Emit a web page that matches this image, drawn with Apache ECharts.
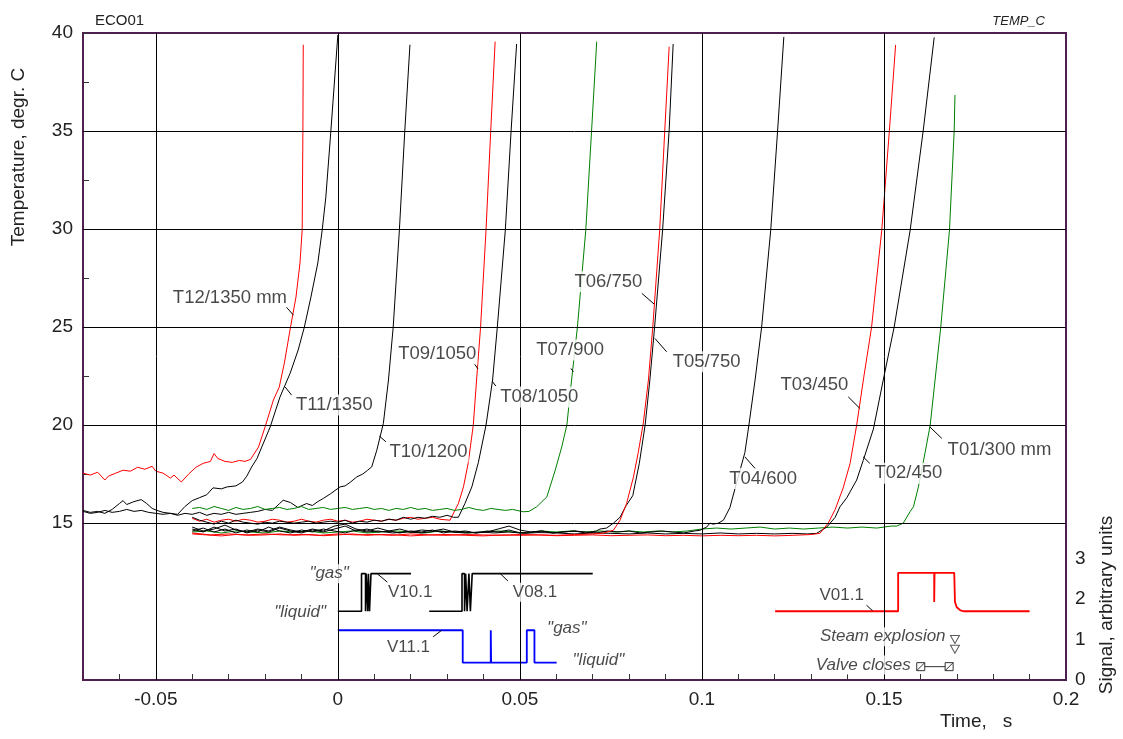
<!DOCTYPE html>
<html>
<head>
<meta charset="utf-8">
<title>ECO01 – TEMP_C</title>
<script src="https://cdn.jsdelivr.net/npm/echarts@6/dist/echarts.min.js"></script>
<style>
  html, body { margin: 0; padding: 0; background: #fff; }
  #chart { width: 1123px; height: 739px; }
</style>
</head>
<body>
<div id="chart"></div>
<script>
// ---- Thermocouple traces: [time s, temperature degC] ----
const T12 = [[-0.070,17.55],[-0.068,17.45],[-0.066,17.60],[-0.064,17.20],[-0.063,17.40],[-0.061,17.55],[-0.059,17.70],[-0.057,17.65],[-0.055,17.85],[-0.053,17.75],[-0.051,17.90],[-0.050,17.65],[-0.048,17.55],[-0.046,17.30],[-0.045,17.45],[-0.043,17.10],[-0.041,17.50],[-0.039,17.85],[-0.037,18.05],[-0.035,18.15],[-0.034,18.55],[-0.033,18.30],[-0.031,18.15],[-0.029,18.10],[-0.027,18.20],[-0.0255,18.15],[-0.024,18.25],[-0.0218,18.88],[-0.0200,19.90],[-0.0177,21.28],[-0.0161,21.94],[-0.0147,23.16],[-0.0130,25.00],[-0.0115,26.53],[-0.0104,28.27],[-0.0098,29.95],[-0.0096,35.05],[-0.0095,39.40]];

const T11 = [[-0.070,15.65],[-0.068,15.55],[-0.066,15.60],[-0.064,15.50],[-0.062,15.70],[-0.060,16.00],[-0.059,16.15],[-0.058,15.95],[-0.056,16.10],[-0.054,16.20],[-0.0525,16.00],[-0.051,15.75],[-0.0497,15.65],[-0.048,15.55],[-0.046,15.50],[-0.044,15.45],[-0.042,15.85],[-0.040,16.15],[-0.038,16.30],[-0.036,16.45],[-0.0343,16.80],[-0.032,16.75],[-0.0304,16.85],[-0.028,16.90],[-0.0262,17.10],[-0.025,17.40],[-0.0237,17.86],[-0.0222,18.30],[-0.0209,18.88],[-0.0186,19.90],[-0.0159,21.43],[-0.0131,22.65],[-0.0109,23.83],[-0.0092,25.00],[-0.0074,26.53],[-0.0055,28.27],[-0.0043,29.95],[-0.0033,31.63],[-0.0019,35.05],[0.0000,39.90]];

const T10 = [[-0.070,15.60],[-0.068,15.50],[-0.066,15.55],[-0.064,15.65],[-0.062,15.55],[-0.060,15.60],[-0.058,15.70],[-0.056,15.60],[-0.054,15.65],[-0.052,15.55],[-0.050,15.50],[-0.048,15.45],[-0.046,15.50],[-0.044,15.40],[-0.042,15.50],[-0.040,15.45],[-0.038,15.55],[-0.036,15.40],[-0.034,15.50],[-0.032,15.45],[-0.030,15.55],[-0.028,15.45],[-0.026,15.50],[-0.024,15.55],[-0.022,15.60],[-0.020,15.70],[-0.018,15.65],[-0.016,16.00],[-0.015,16.17],[-0.013,16.05],[-0.011,15.80],[-0.0086,16.00],[-0.007,15.90],[-0.0055,16.10],[-0.004,16.26],[-0.002,16.50],[0.0006,16.85],[0.002,16.90],[0.0035,17.10],[0.0052,17.36],[0.0068,17.50],[0.0082,17.70],[0.0093,17.87],[0.0107,18.72],[0.0116,19.40],[0.0125,20.09],[0.0139,22.30],[0.0152,25.00],[0.0169,29.95],[0.0184,35.05],[0.0198,39.40]];

const T09 = [[-0.040,15.25],[-0.038,15.10],[-0.036,15.20],[-0.034,15.05],[-0.032,15.15],[-0.030,15.20],[-0.028,15.10],[-0.026,15.20],[-0.024,15.15],[-0.022,15.05],[-0.020,15.10],[-0.018,15.20],[-0.016,15.15],[-0.014,15.05],[-0.012,15.10],[-0.010,15.20],[-0.008,15.10],[-0.006,15.05],[-0.004,15.15],[-0.002,15.20],[0.000,15.10],[0.002,15.15],[0.004,15.05],[0.006,15.10],[0.008,15.20],[0.010,15.15],[0.012,15.10],[0.014,15.20],[0.016,15.15],[0.018,15.25],[0.020,15.30],[0.022,15.20],[0.024,15.25],[0.026,15.30],[0.028,15.20],[0.0308,15.15],[0.0331,16.00],[0.0345,16.85],[0.0358,18.06],[0.0372,20.00],[0.0381,22.30],[0.0392,25.00],[0.0407,29.95],[0.0420,35.05],[0.0432,39.56]];

const T08 = [[-0.040,15.30],[-0.038,15.15],[-0.036,15.05],[-0.034,14.95],[-0.032,15.10],[-0.030,15.00],[-0.028,15.15],[-0.026,15.05],[-0.024,15.00],[-0.022,14.95],[-0.020,15.05],[-0.018,15.00],[-0.016,15.10],[-0.014,15.05],[-0.012,15.00],[-0.010,15.05],[-0.008,15.10],[-0.006,15.00],[-0.004,15.05],[-0.002,15.10],[0.000,15.05],[0.002,15.15],[0.004,15.00],[0.006,15.10],[0.008,15.05],[0.010,15.15],[0.012,15.10],[0.014,15.20],[0.016,15.15],[0.018,15.30],[0.020,15.20],[0.022,15.30],[0.024,15.25],[0.026,15.35],[0.028,15.30],[0.030,15.40],[0.0318,15.30],[0.0331,15.30],[0.0349,16.00],[0.0368,16.85],[0.0386,18.10],[0.0407,20.00],[0.0425,22.30],[0.0438,25.00],[0.0460,29.95],[0.0476,35.05],[0.0491,39.44]];

const T07 = [[-0.040,15.75],[-0.038,15.80],[-0.036,15.70],[-0.034,15.85],[-0.032,15.75],[-0.030,15.65],[-0.028,15.80],[-0.026,15.70],[-0.024,15.75],[-0.022,15.85],[-0.020,15.70],[-0.018,15.75],[-0.016,15.80],[-0.014,15.70],[-0.012,15.75],[-0.010,15.85],[-0.008,15.70],[-0.006,15.75],[-0.004,15.80],[-0.002,15.70],[0.000,15.75],[0.002,15.80],[0.004,15.70],[0.006,15.75],[0.008,15.80],[0.010,15.70],[0.012,15.75],[0.014,15.65],[0.016,15.75],[0.018,15.70],[0.020,15.80],[0.022,15.70],[0.024,15.75],[0.026,15.65],[0.028,15.70],[0.030,15.75],[0.032,15.65],[0.034,15.70],[0.036,15.80],[0.038,15.70],[0.040,15.65],[0.042,15.75],[0.044,15.70],[0.046,15.65],[0.048,15.70],[0.0509,15.58],[0.0525,15.60],[0.0546,15.83],[0.0574,16.34],[0.0597,17.70],[0.0615,18.89],[0.0629,20.00],[0.0642,22.30],[0.0658,25.00],[0.0681,29.95],[0.0697,35.05],[0.0711,39.56]];

const T06 = [[-0.040,14.50],[-0.035,14.40],[-0.030,14.45],[-0.025,14.40],[-0.020,14.45],[-0.015,14.40],[-0.010,14.42],[-0.005,14.38],[0.000,14.45],[0.005,14.40],[0.010,14.42],[0.015,14.38],[0.020,14.45],[0.025,14.40],[0.030,14.38],[0.035,14.42],[0.040,14.40],[0.045,14.38],[0.050,14.42],[0.055,14.40],[0.060,14.38],[0.065,14.42],[0.070,14.45],[0.073,14.50],[0.0757,14.64],[0.0775,15.15],[0.0793,16.00],[0.0812,17.36],[0.0825,18.60],[0.0839,20.10],[0.0853,22.30],[0.0865,25.00],[0.0884,29.95],[0.0898,35.05],[0.0910,39.30]];

const T05 = [[-0.040,14.80],[-0.037,14.60],[-0.034,14.70],[-0.031,14.90],[-0.028,14.65],[-0.025,14.55],[-0.022,14.70],[-0.019,14.60],[-0.016,14.80],[-0.013,14.65],[-0.010,14.55],[-0.007,14.70],[-0.004,14.60],[-0.001,14.85],[0.002,14.95],[0.005,14.70],[0.008,14.60],[0.011,14.75],[0.014,14.60],[0.017,14.70],[0.020,14.55],[0.023,14.65],[0.026,14.60],[0.029,14.70],[0.032,14.55],[0.035,14.60],[0.038,14.50],[0.041,14.55],[0.044,14.70],[0.047,14.85],[0.050,14.65],[0.053,14.55],[0.056,14.60],[0.059,14.50],[0.062,14.55],[0.065,14.60],[0.068,14.50],[0.071,14.60],[0.072,14.70],[0.0738,14.75],[0.0757,15.00],[0.0775,15.30],[0.0792,15.90],[0.0810,16.40],[0.0828,18.05],[0.0844,20.00],[0.0857,22.30],[0.0870,25.00],[0.0892,29.95],[0.0910,35.05],[0.0921,39.44]];

const T04 = [[-0.040,14.70],[-0.037,14.55],[-0.034,14.80],[-0.031,14.60],[-0.028,14.70],[-0.025,14.50],[-0.022,14.65],[-0.019,14.55],[-0.016,14.75],[-0.013,14.60],[-0.010,14.50],[-0.007,14.65],[-0.004,14.55],[-0.001,14.70],[0.002,14.85],[0.005,14.60],[0.008,14.70],[0.011,14.55],[0.014,14.60],[0.017,14.50],[0.020,14.60],[0.023,14.55],[0.026,14.65],[0.029,14.50],[0.032,14.60],[0.035,14.55],[0.038,14.50],[0.041,14.60],[0.044,14.55],[0.047,14.65],[0.050,14.50],[0.053,14.55],[0.056,14.60],[0.059,14.50],[0.062,14.55],[0.065,14.60],[0.068,14.55],[0.071,14.50],[0.074,14.60],[0.077,14.55],[0.080,14.60],[0.083,14.50],[0.086,14.55],[0.089,14.60],[0.092,14.55],[0.095,14.50],[0.098,14.60],[0.0995,14.64],[0.1013,14.80],[0.1022,15.00],[0.1031,14.95],[0.1045,15.00],[0.1059,15.15],[0.1077,15.80],[0.1086,16.43],[0.1118,18.60],[0.1129,20.00],[0.1146,22.30],[0.1164,25.00],[0.1189,29.95],[0.1208,35.05],[0.1225,39.80]];

const T03 = [[-0.040,14.45],[-0.036,14.40],[-0.032,14.35],[-0.028,14.42],[-0.024,14.38],[-0.020,14.40],[-0.016,14.45],[-0.012,14.38],[-0.008,14.42],[-0.004,14.36],[0.000,14.40],[0.004,14.45],[0.008,14.38],[0.012,14.42],[0.016,14.40],[0.020,14.35],[0.025,14.40],[0.030,14.42],[0.035,14.38],[0.040,14.35],[0.045,14.40],[0.050,14.38],[0.055,14.40],[0.060,14.36],[0.065,14.38],[0.070,14.40],[0.075,14.36],[0.080,14.38],[0.085,14.40],[0.090,14.36],[0.095,14.38],[0.100,14.35],[0.105,14.38],[0.110,14.36],[0.115,14.38],[0.120,14.35],[0.125,14.38],[0.130,14.42],[0.1324,14.48],[0.1347,15.00],[0.1366,15.70],[0.1388,16.80],[0.1407,18.05],[0.1425,20.00],[0.1445,22.50],[0.1466,25.00],[0.1494,29.95],[0.1515,35.05],[0.1532,39.39]];

const T02 = [[-0.040,14.60],[-0.037,14.75],[-0.034,14.55],[-0.031,14.70],[-0.028,14.50],[-0.025,14.65],[-0.022,14.55],[-0.019,14.80],[-0.016,14.60],[-0.013,14.50],[-0.010,14.65],[-0.007,14.55],[-0.004,14.70],[-0.001,14.60],[0.002,14.50],[0.005,14.65],[0.008,14.55],[0.011,14.60],[0.015,14.50],[0.019,14.55],[0.023,14.50],[0.027,14.60],[0.031,14.55],[0.035,14.50],[0.039,14.55],[0.043,14.50],[0.047,14.55],[0.051,14.48],[0.055,14.52],[0.060,14.50],[0.065,14.45],[0.070,14.50],[0.075,14.48],[0.080,14.45],[0.085,14.50],[0.090,14.45],[0.095,14.48],[0.100,14.45],[0.105,14.50],[0.110,14.45],[0.115,14.48],[0.120,14.45],[0.125,14.48],[0.129,14.45],[0.1315,14.48],[0.1343,14.80],[0.1366,15.30],[0.1379,15.83],[0.1398,16.30],[0.1425,17.20],[0.1443,18.20],[0.1471,19.80],[0.1498,22.30],[0.1528,25.00],[0.1572,29.95],[0.1608,35.05],[0.1638,39.78]];

const T01 = [[-0.040,14.55],[-0.036,14.60],[-0.032,14.50],[-0.028,14.60],[-0.024,14.55],[-0.020,14.50],[-0.016,14.60],[-0.012,14.55],[-0.008,14.60],[-0.004,14.50],[0.000,14.55],[0.004,14.60],[0.008,14.50],[0.012,14.55],[0.016,14.60],[0.020,14.55],[0.024,14.50],[0.028,14.60],[0.032,14.55],[0.036,14.50],[0.040,14.55],[0.044,14.60],[0.048,14.55],[0.052,14.50],[0.056,14.60],[0.060,14.55],[0.064,14.60],[0.068,14.55],[0.072,14.60],[0.076,14.55],[0.080,14.60],[0.084,14.55],[0.088,14.60],[0.092,14.55],[0.096,14.60],[0.100,14.70],[0.104,14.75],[0.108,14.70],[0.112,14.75],[0.116,14.80],[0.120,14.70],[0.124,14.75],[0.128,14.70],[0.132,14.75],[0.136,14.80],[0.140,14.75],[0.144,14.80],[0.148,14.75],[0.152,14.85],[0.1535,14.85],[0.1553,15.00],[0.1572,15.60],[0.1581,15.83],[0.1594,16.80],[0.1613,18.60],[0.1627,20.00],[0.1656,25.00],[0.1680,29.95],[0.1693,35.05],[0.1695,36.84]];

// ---- Valve / void signals: [time s, signal units] ----
const V10 = [[0.0000,1.70],[0.0065,1.70],[0.0065,2.63],[0.0076,2.63],[0.0076,1.70],[0.0078,1.70],[0.0078,2.63],[0.0082,2.63],[0.0082,1.70],[0.0084,1.70],[0.0084,2.63],[0.0087,2.63],[0.0087,1.70],[0.0091,1.70],[0.0091,2.63],[0.0201,2.63]];
const V08 = [[0.0251,1.70],[0.0341,1.70],[0.0341,2.63],[0.0348,2.63],[0.0348,1.70],[0.0351,1.70],[0.0351,2.63],[0.0355,2.63],[0.0355,1.70],[0.0360,1.70],[0.0360,2.63],[0.0364,2.63],[0.0364,1.70],[0.0369,1.70],[0.0369,2.63],[0.0700,2.63]];
const V11 = [[0.0000,1.23],[0.0343,1.23],[0.0343,0.43],[0.0420,0.43],[0.0420,1.23],[0.0421,1.23],[0.0421,0.43],[0.0519,0.43],[0.0519,1.23],[0.0540,1.23],[0.0540,0.43],[0.0601,0.43]];
const V01 = [[0.1201,1.70],[0.1539,1.70],[0.1539,2.65],[0.1638,2.65],[0.1638,1.93],[0.1639,2.65],[0.1693,2.65],[0.1695,1.93],[0.1700,1.80],[0.1710,1.72],[0.1720,1.70],[0.1900,1.70]];

// event markers
const steamExplosion = [[0.1695,1.00],[0.1695,0.76]];
const valveCloses = [[0.1601,0.33],[0.1679,0.33]];

// ---- Axis ticks and labels ----
const timeLabels = [-0.05, 0, 0.05, 0.1, 0.15, 0.2];
const timeTicks = [-0.06,-0.05,-0.04,-0.03,-0.02,-0.01,0,0.01,0.02,0.03,0.04,0.05,0.06,0.07,0.08,0.09,0.1,0.11,0.12,0.13,0.14,0.15,0.16,0.17,0.18,0.19];
const tempLabels = [15, 20, 25, 30, 35, 40];
const tempTicks = [15, 17.5, 20, 22.5, 25, 27.5, 30, 32.5, 35, 37.5, 40];
const signalLabels = [0, 1, 2, 3];
const timeGrid = [-0.05, 0, 0.05, 0.1, 0.15];
const tempGrid = [15, 20, 25, 30, 35];

// ---- Annotations: text, anchor time, anchor value ----
const tempNotes = [
  ['T12/1350 mm', -0.0456, 26.48],
  ['T11/1350', -0.0118, 21.02],
  ['T10/1200', 0.0139, 18.64],
  ['T09/1050', 0.0163, 23.62],
  ['T08/1050', 0.0443, 21.44],
  ['T07/900', 0.0542, 23.83],
  ['T06/750', 0.0647, 27.31],
  ['T05/750', 0.0917, 23.23],
  ['T04/600', 0.1072, 17.28],
  ['T03/450', 0.1213, 22.04],
  ['T02/450', 0.1471, 17.54],
  ['T01/300 mm', 0.1672, 18.72]
];
const tempLeaders = [
  [[-0.0141,26.01],[-0.0122,25.61]],
  [[-0.0145,21.95],[-0.0127,21.53]],
  [[0.0114,19.44],[0.0132,19.15]],
  [[0.0376,23.10],[0.0385,22.86]],
  [[0.0425,22.21],[0.0434,21.99]],
  [[0.0640,22.89],[0.0647,22.72]],
  [[0.0835,26.72],[0.0869,26.17]],
  [[0.0871,24.42],[0.0903,23.74]],
  [[0.1118,18.38],[0.1146,17.79]],
  [[0.1402,21.44],[0.1434,20.85]],
  [[0.1443,18.38],[0.1461,18.05]],
  [[0.1626,19.91],[0.1659,19.32]]
];
// signal notes: text, time, value, alignment, italic
const signalNotes = [
  ['"gas"', 0.0033, 2.63, 'right', true],
  ['"liquid"', -0.0030, 1.68, 'right', true],
  ['V10.1', 0.0135, 2.17, 'left', false],
  ['V08.1', 0.0478, 2.17, 'left', false],
  ['V11.1', 0.0132, 0.82, 'left', false],
  ['"gas"', 0.0572, 1.27, 'left', true],
  ['"liquid"', 0.0642, 0.49, 'left', true],
  ['V01.1', 0.1320, 2.10, 'left', false],
  ['Steam explosion', 0.1672, 1.07, 'right', true],
  ['Valve closes', 0.1576, 0.37, 'right', true]
];
const signalLeaders = [
  [[0.0108,2.63],[0.0136,2.42]],
  [[0.0445,2.64],[0.0467,2.45]],
  [[0.0262,1.07],[0.0285,1.23]],
  [[0.1452,1.85],[0.1469,1.71]]
];

const FONT = '"Liberation Sans", Arial, Helvetica, sans-serif';
const PURPLE = '#4f1f50';
const RED = '#ff0000', BLACK = '#000000', GREEN = '#008000', BLUE = '#0000ff';

const chart = echarts.init(document.getElementById('chart'), null, { renderer: 'canvas' });

function curve(name, data, color) {
  return {
    name, type: 'line', data, xAxisIndex: 0, yAxisIndex: 0,
    showSymbol: false, symbol: 'none', z: 3,
    lineStyle: { color, width: 1 }, itemStyle: { color },
    silent: true
  };
}
function signal(name, data, color, width) {
  return {
    name, type: 'line', data, xAxisIndex: 0, yAxisIndex: 1,
    showSymbol: false, symbol: 'none', z: 3,
    lineStyle: { color, width }, itemStyle: { color },
    silent: true
  };
}

const fmtTime = v => {
  const r = Math.round(v * 100) / 100;
  return r === 0 ? '0' : String(r);
};

const option = {
  animation: false,
  backgroundColor: '#ffffff',
  textStyle: { fontFamily: FONT },
  grid: {
    left: 83, right: 57, top: 33, bottom: 59,
    show: true, borderColor: PURPLE, borderWidth: 2, backgroundColor: 'transparent',
    containLabel: false
  },
  xAxis: [{
    type: 'value', min: -0.07, max: 0.2,
    axisLine: { show: true, onZero: false, lineStyle: { color: PURPLE, width: 2 } },
    axisTick: { show: true, inside: true, length: 6, customValues: timeTicks, lineStyle: { color: '#333', width: 1 } },
    axisLabel: { customValues: timeLabels, formatter: fmtTime, color: '#222', fontSize: 19, margin: 10, fontFamily: FONT },
    splitLine: { show: false }
  }],
  yAxis: [{
    type: 'value', min: 7, max: 40, position: 'left',
    axisLine: { show: true, onZero: false, lineStyle: { color: PURPLE, width: 2 } },
    axisTick: { show: true, inside: true, length: 6, customValues: tempTicks, lineStyle: { color: '#333', width: 1 } },
    axisLabel: { customValues: tempLabels, color: '#222', fontSize: 19, margin: 10, fontFamily: FONT },
    splitLine: { show: false }
  }, {
    type: 'value', min: 0, max: 16, position: 'right',
    axisLine: { show: true, onZero: false, lineStyle: { color: PURPLE, width: 2 } },
    axisTick: { show: false },
    axisLabel: { customValues: signalLabels, color: '#222', fontSize: 19, margin: 9, fontFamily: FONT },
    splitLine: { show: false }
  }],
  graphic: [
    { type: 'text', x: 95, y: 21, style: { text: 'ECO01', font: '15px ' + FONT, fill: '#222', verticalAlign: 'middle' } },
    { type: 'text', x: 1045, y: 21, style: { text: 'TEMP_C', font: 'italic 13px ' + FONT, fill: '#222', align: 'right', verticalAlign: 'middle' } },
    { type: 'text', x: 19, y: 157, rotation: Math.PI / 2, style: { text: 'Temperature, degr. C', font: '19px ' + FONT, fill: '#222', align: 'center', verticalAlign: 'middle' } },
    { type: 'text', x: 1107, y: 605, rotation: Math.PI / 2, style: { text: 'Signal, arbitrary units', font: '19px ' + FONT, fill: '#222', align: 'center', verticalAlign: 'middle' } },
    { type: 'text', x: 940, y: 722, style: { text: 'Time,   s', font: '19px ' + FONT, fill: '#222', verticalAlign: 'middle' } }
  ],
  series: [
    // grid lines
    {
      name: 'grid', type: 'line', data: [[-0.07, 7]], showSymbol: false, symbol: 'none', z: 1,
      lineStyle: { opacity: 0 }, silent: true,
      markLine: {
        silent: true, symbol: ['none', 'none'], label: { show: false },
        lineStyle: { color: '#000', width: 1, type: 'solid' },
        data: timeGrid.map(v => ({ xAxis: v })).concat(tempGrid.map(v => ({ yAxis: v })))
      }
    },
    curve('T12', T12, RED),
    curve('T11', T11, BLACK),
    curve('T10', T10, BLACK),
    curve('T09', T09, RED),
    curve('T08', T08, BLACK),
    curve('T07', T07, GREEN),
    curve('T01', T01, GREEN),
    curve('T05', T05, BLACK),
    curve('T04', T04, BLACK),
    curve('T02', T02, BLACK),
    curve('T06', T06, RED),
    curve('T03', T03, RED),
    signal('V10.1', V10, BLACK, 1.6),
    signal('V08.1', V08, BLACK, 1.6),
    signal('V11.1', V11, BLUE, 1.8),
    signal('V01.1', V01, RED, 1.8),
    {
      name: 'valve', type: 'line', data: valveCloses, xAxisIndex: 0, yAxisIndex: 1, z: 4,
      symbol: 'path://M0,0L10,0L10,10L0,10Z M0,10L10,0', symbolSize: 8, showSymbol: true,
      lineStyle: { color: '#333', width: 1 }, itemStyle: { color: '#fff', borderColor: '#333', borderWidth: 1 },
      silent: true
    },
    {
      name: 'explosion', type: 'scatter', data: steamExplosion, xAxisIndex: 0, yAxisIndex: 1, z: 4,
      symbol: 'triangle', symbolRotate: 180, symbolSize: [9, 8],
      itemStyle: { color: '#fff', borderColor: '#333', borderWidth: 1 }, silent: true
    },
    // curve labels
    {
      name: 'tempNotes', type: 'scatter', xAxisIndex: 0, yAxisIndex: 0, z: 6,
      symbolSize: 0.01, itemStyle: { color: 'transparent' }, silent: true,
      data: tempNotes.map(n => ({ name: n[0], value: [n[1], n[2]] })),
      label: {
        show: true, position: [0, 0], align: 'left', verticalAlign: 'middle',
        formatter: p => p.name, fontSize: 18.5, color: '#1a1a1a', fontFamily: FONT,
        backgroundColor: '#fff', padding: [1, 1]
      }
    },
    {
      name: 'signalNotes', type: 'scatter', xAxisIndex: 0, yAxisIndex: 1, z: 6,
      symbolSize: 0.01, itemStyle: { color: 'transparent' }, silent: true,
      data: signalNotes.map(n => ({
        name: n[0], value: [n[1], n[2]],
        label: { align: n[3], fontStyle: n[4] ? 'italic' : 'normal' }
      })),
      label: {
        show: true, position: [0, 0], verticalAlign: 'middle',
        formatter: p => p.name, fontSize: 17, color: '#1a1a1a', fontFamily: FONT,
        backgroundColor: '#fff', padding: [1, 1]
      }
    },
    {
      name: 'tempLeaders', type: 'lines', coordinateSystem: 'cartesian2d', xAxisIndex: 0, yAxisIndex: 0, z: 7,
      data: tempLeaders.map(c => ({ coords: c })), lineStyle: { color: '#000', width: 1, opacity: 1 }, silent: true
    },
    {
      name: 'signalLeaders', type: 'lines', coordinateSystem: 'cartesian2d', xAxisIndex: 0, yAxisIndex: 1, z: 7,
      data: signalLeaders.map(c => ({ coords: c })), lineStyle: { color: '#000', width: 1, opacity: 1 }, silent: true
    }
  ]
};

chart.setOption(option);
</script>
</body>
</html>
